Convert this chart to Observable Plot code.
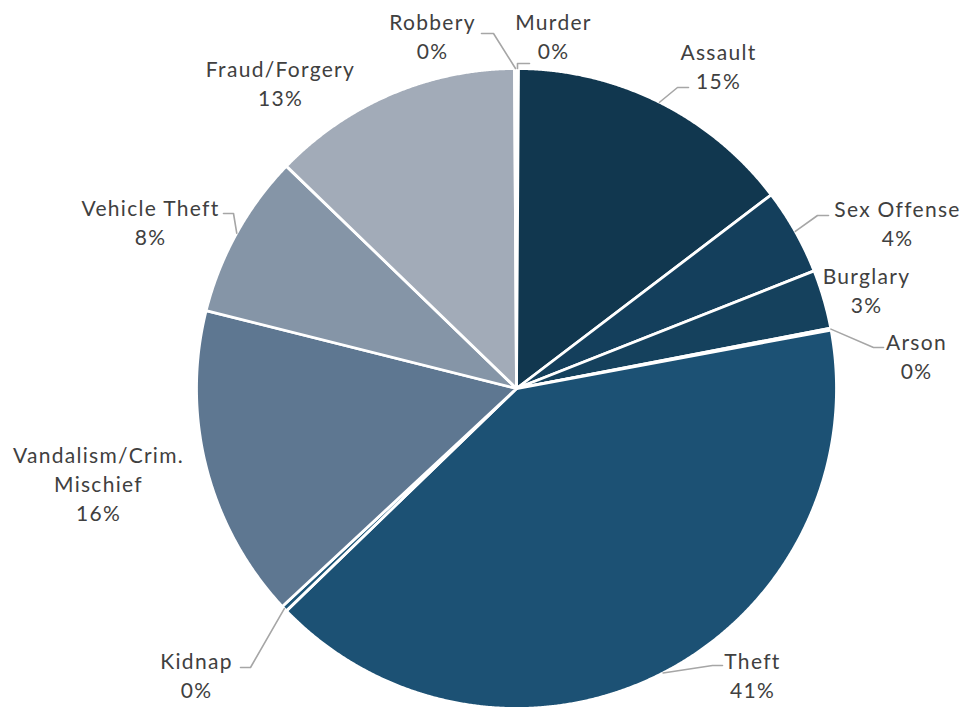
<!DOCTYPE html>
<html><head><meta charset="utf-8">
<script src="https://cdn.jsdelivr.net/npm/d3@7"></script>
<script src="https://cdn.jsdelivr.net/npm/@observablehq/plot@0.6"></script>
<style>html,body{margin:0;padding:0;background:#fff} svg text{letter-spacing:1.3px}</style>
</head><body><div id="chart"></div>
<script>
// ---- data ----
const categories = ["Murder","Assault","Sex Offense","Burglary","Arson","Theft","Kidnap","Vandalism/Crim. Mischief","Vehicle Theft","Fraud/Forgery","Robbery"];
const counts = [1,147,44,30,1,411,3,160,84,128,1];
const labelNames = ["Murder","Assault","Sex Offense","Burglary","Arson","Theft","Kidnap","Vandalism/Crim.\nMischief","Vehicle Theft","Fraud/Forgery","Robbery"];
const sliceColors = ["#0f3049","#11374f","#143f5c","#15415d","#184a6c","#1c5174","#1e5577","#5e7791","#8595a7","#a2abb8","#b4bcc7"];

// ---- layout ----
const W = 966, H = 709, cx = 516, cy = 388, R = 320;
const labelAt = {
  "Murder":[553,35], "Assault":[718,65], "Sex Offense":[897,222], "Burglary":[866,289],
  "Arson":[916,355], "Theft":[752,674], "Kidnap":[196,674], "Vandalism/Crim. Mischief":[98,482],
  "Vehicle Theft":[150,221], "Fraud/Forgery":[280,82], "Robbery":[432,35]
};
const leaderBend = {
  "Murder":[[517,63],[529,63]], "Assault":[[677,87],[688,87]], "Sex Offense":[[817,215],[828,215]],
  "Arson":[[873,347],[883,347]], "Theft":[[712,665],[722,665]], "Kidnap":[[250,667],[240,667]],
  "Vehicle Theft":[[233,213],[223,213]], "Robbery":[[493,33],[481,33]]
};

const data = categories.map((c,i)=>({category:c, value:counts[i], name:labelNames[i]}));
const total = d3.sum(counts);
const arcs = d3.pie().sort(null).value(d=>d.value)(data);
const pt = (a,r)=>({x: cx + r*Math.sin(a), y: cy - r*Math.cos(a)});

const slicePts = [];
arcs.forEach(a=>{
  const c = a.data.category;
  slicePts.push({category:c, x:cx, y:cy});
  const n = Math.max(2, Math.ceil((a.endAngle-a.startAngle)/0.004));
  for (let k=0;k<=n;k++){
    const p = pt(a.startAngle + (a.endAngle-a.startAngle)*k/n, R);
    slicePts.push({category:c, ...p});
  }
});

const leaderPts = [];
arcs.forEach(a=>{
  const c = a.data.category;
  if (!leaderBend[c]) return;
  const m = (a.startAngle+a.endAngle)/2;
  leaderPts.push({category:c, ...pt(m, R)});
  leaderBend[c].forEach(([x,y])=>leaderPts.push({category:c, x, y}));
});

const labels = arcs.map(a=>({
  category:a.data.category,
  x: labelAt[a.data.category][0], y: labelAt[a.data.category][1],
  text: a.data.name + "\n" + Math.round(a.data.value/total*100) + "%"
}));

const chart = Plot.plot({
  width: W, height: H, margin: 0,
  x: {type:"linear", domain:[0,W], range:[0,W], axis:null},
  y: {type:"linear", domain:[0,H], range:[0,H], axis:null},
  color: {domain: categories, range: sliceColors},
  style: {fontFamily: "Lato, sans-serif", background: "white"},
  marks: [
    Plot.line(slicePts, {x:"x", y:"y", z:"category", fill:"category", stroke:"white", strokeWidth:2.8, strokeLinejoin:"round", curve:"linear-closed"}),
    Plot.line(leaderPts, {x:"x", y:"y", z:"category", stroke:"#a6a6a6", strokeWidth:1.6}),
    Plot.text(labels, {x:"x", y:"y", text:"text", fontSize:21, fill:"#404040", lineHeight:1.38, lineAnchor:"middle", textAnchor:"middle"})
  ]
});
document.getElementById("chart").appendChild(chart);
</script>
</body></html>
